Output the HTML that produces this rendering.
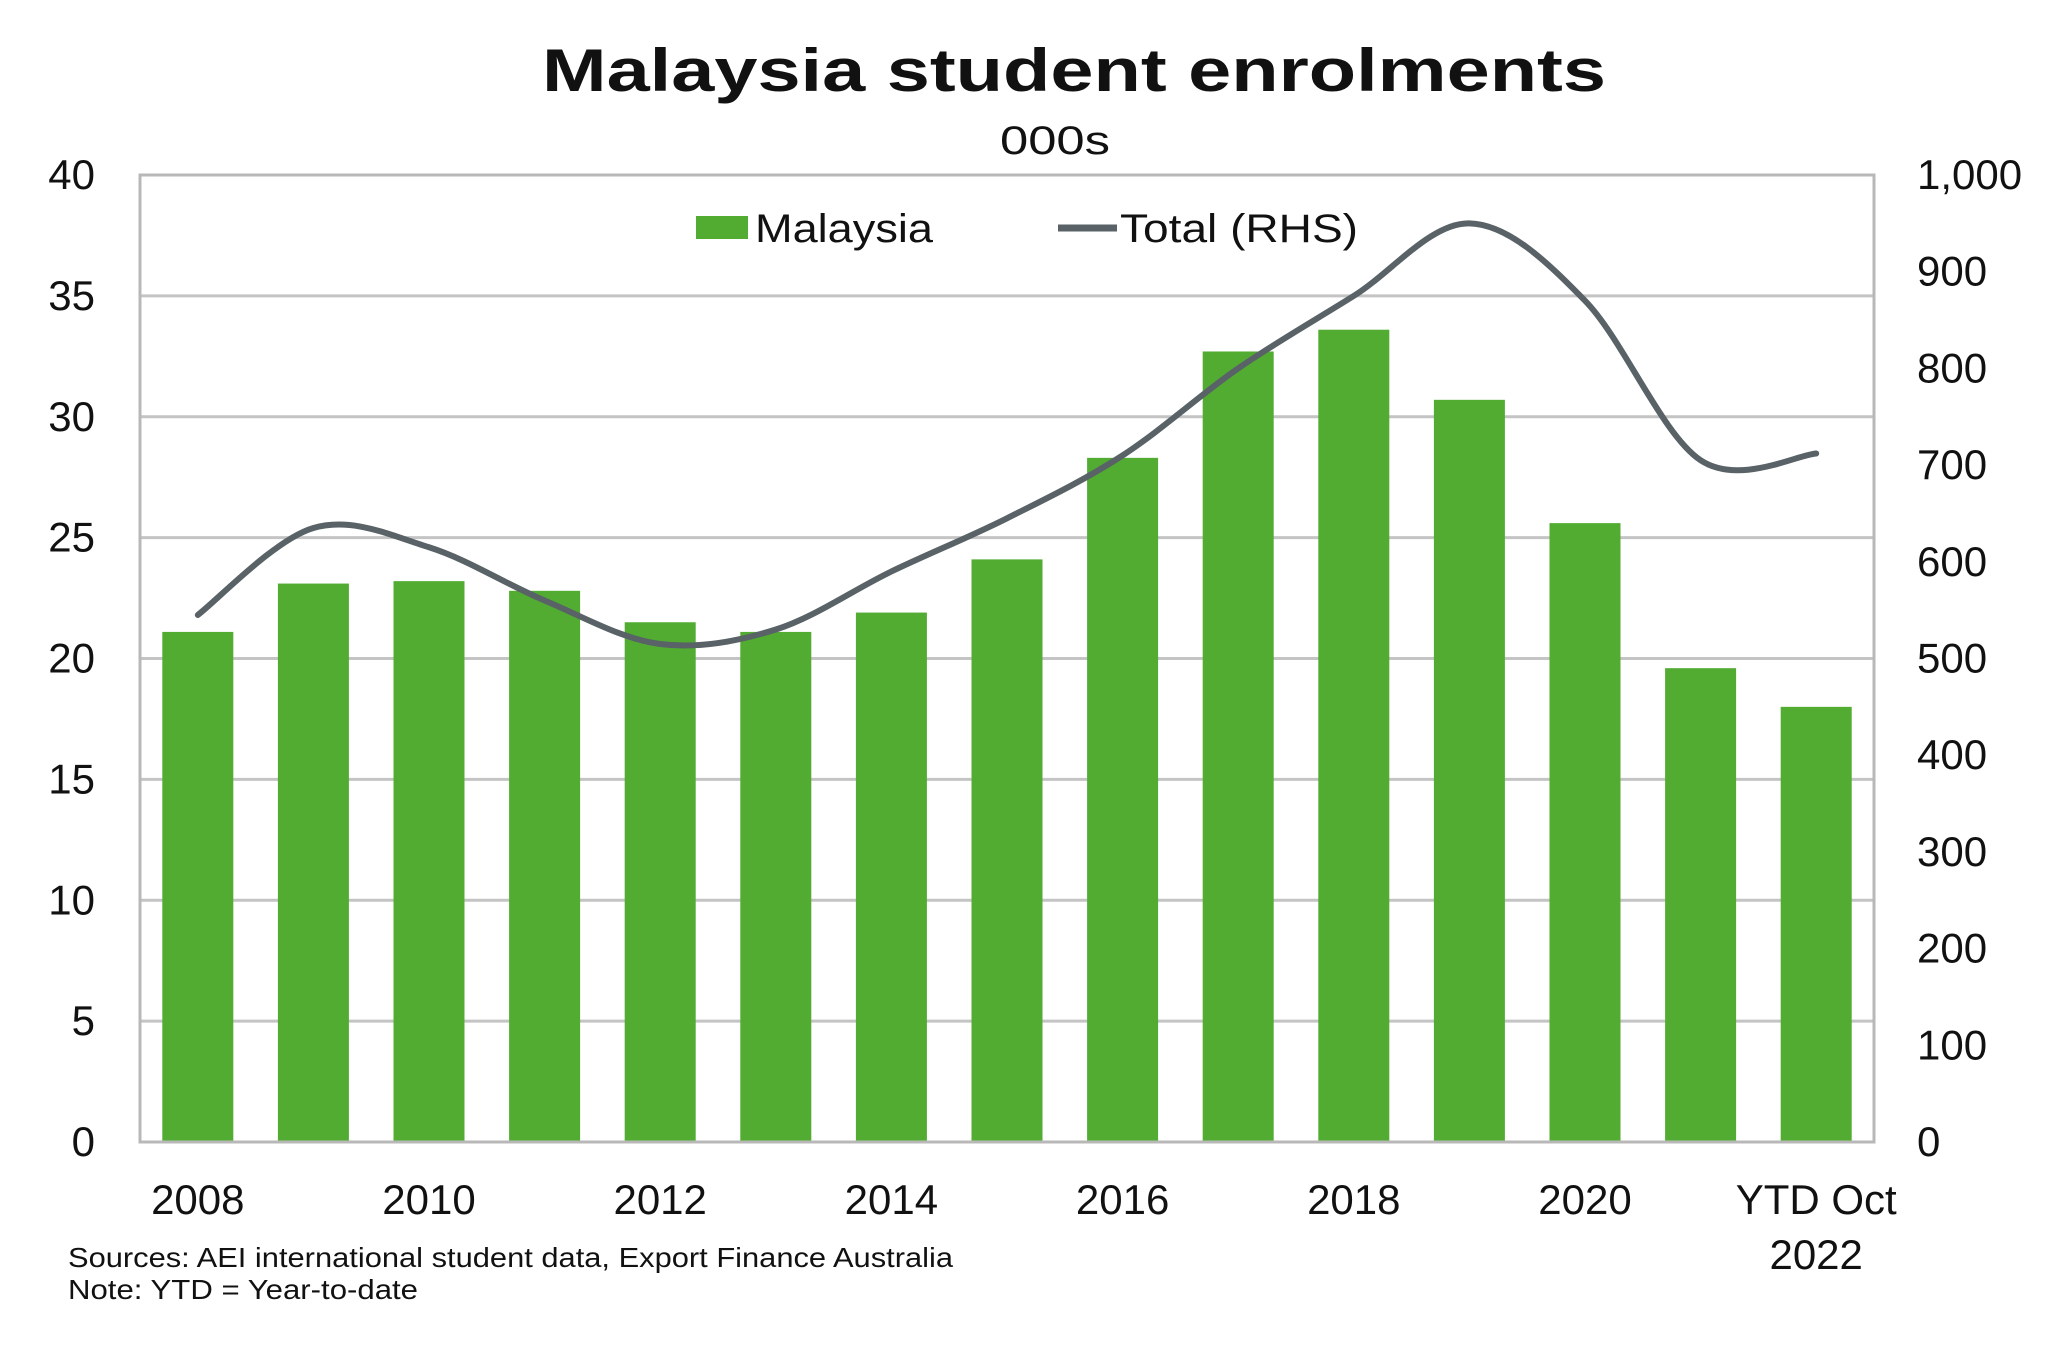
<!DOCTYPE html>
<html><head><meta charset="utf-8"><style>
html,body{margin:0;padding:0;background:#fff}
svg{display:block}
text{font-family:"Liberation Sans",Arial,sans-serif;fill:#111}
</style></head><body>
<svg id="chart" width="2048" height="1346" viewBox="0 0 2048 1346">
<text x="1074" y="91" text-anchor="middle" font-size="60" font-weight="bold" textLength="1064" lengthAdjust="spacingAndGlyphs">Malaysia student enrolments</text>
<text x="1055" y="154" text-anchor="middle" font-size="40" textLength="110" lengthAdjust="spacingAndGlyphs">000s</text>
<g id="grid"></g>
<g id="bars"></g>
<g id="line"></g>
<rect x="140" y="175" width="1734" height="967" fill="none" stroke="#b8b8b8" stroke-width="3"/>
<g id="yleft"></g>
<g id="yright"></g>
<g id="xaxis"></g>
<g>
<rect x="696" y="216" width="52" height="23" fill="#52ac32"/>
<text x="755" y="242" font-size="40" textLength="178" lengthAdjust="spacingAndGlyphs">Malaysia</text>
<line x1="1058" y1="228" x2="1117" y2="228" stroke="#596266" stroke-width="7"/>
<text x="1120" y="242" font-size="40" textLength="238" lengthAdjust="spacingAndGlyphs">Total (RHS)</text>
</g>
<text x="68" y="1267" font-size="28" fill="#222" textLength="885" lengthAdjust="spacingAndGlyphs">Sources: AEI international student data, Export Finance Australia</text>
<text x="68" y="1299" font-size="28" fill="#222" textLength="350" lengthAdjust="spacingAndGlyphs">Note: YTD = Year-to-date</text>
</svg>
<script>
const categories = ["2008","2009","2010","2011","2012","2013","2014","2015","2016","2017","2018","2019","2020","2021","YTD Oct 2022"];
const malaysiaValues = [21.1,23.1,23.2,22.8,21.5,21.1,21.9,24.1,28.3,32.7,33.6,30.7,25.6,19.6,18.0];
const totalValues = [545,635,615,560,515,530,590,645,710,800,875,950,870,705,712];
const leftTicks = [0,5,10,15,20,25,30,35,40];
const rightTicks = [0,100,200,300,400,500,600,700,800,900,1000];
const xLabelIdx = [0,2,4,6,8,10,12,14];

const NS="http://www.w3.org/2000/svg";
const L=140,R=1874,T=175,B=1142;
const step=(R-L)/categories.length;
const xC=i=>L+step*(i+0.5);
const yL=v=>B-(v/40)*(B-T);
const yR=v=>B-(v/1000)*(B-T);
function mk(tag,attrs,parent){const e=document.createElementNS(NS,tag);for(const k in attrs)e.setAttribute(k,attrs[k]);parent.appendChild(e);return e;}

const grid=document.getElementById('grid');
leftTicks.forEach(v=>{if(v===0||v===40)return;
 const g=mk('line',{x1:L,x2:R,y1:yL(v),y2:yL(v),stroke:'#c4c4c4','stroke-width':3},grid);
 
 });

const bars=document.getElementById('bars');
malaysiaValues.forEach((v,i)=>{
 const r=mk('rect',{x:xC(i)-35.5,y:yL(v),width:71,height:B-yL(v),fill:'#52ac32'},bars);
 
 });

const pts=totalValues.map((v,i)=>[xC(i),yR(v)]);
let d='M'+pts[0][0]+','+pts[0][1];
for(let i=0;i<pts.length-1;i++){
 const p0=pts[Math.max(0,i-1)],p1=pts[i],p2=pts[i+1],p3=pts[Math.min(pts.length-1,i+2)];
 const c1=[p1[0]+(p2[0]-p0[0])/6,p1[1]+(p2[1]-p0[1])/6];
 const c2=[p2[0]-(p3[0]-p1[0])/6,p2[1]-(p3[1]-p1[1])/6];
 d+=' C'+c1+' '+c2+' '+p2;}
const path=mk('path',{d:d,fill:'none',stroke:'#596266','stroke-width':6,'stroke-linecap':'round'},document.getElementById('line'));



const yl=document.getElementById('yleft');
leftTicks.forEach(v=>{
 const t=mk('text',{x:95,y:yL(v)+14,'text-anchor':'end','font-size':42},yl);t.textContent=v;
 
 });
const yr=document.getElementById('yright');
rightTicks.forEach(v=>{
 const t=mk('text',{x:1917,y:yR(v)+14,'font-size':42},yr);t.textContent=v.toLocaleString('en-US');
 
 });
const xa=document.getElementById('xaxis');
xLabelIdx.forEach(i=>{
 const lab=categories[i];
 if(lab.startsWith('YTD')){
  const t=mk('text',{x:xC(i),y:1214,'text-anchor':'middle','font-size':42},xa);t.textContent='YTD Oct';
  
  
  const t2=mk('text',{x:xC(i),y:1269,'text-anchor':'middle','font-size':42},xa);t2.textContent='2022';
  
  
 } else {
  const t=mk('text',{x:xC(i),y:1214,'text-anchor':'middle','font-size':42},xa);t.textContent=lab;
  
  }
});
</script>
</body></html>
